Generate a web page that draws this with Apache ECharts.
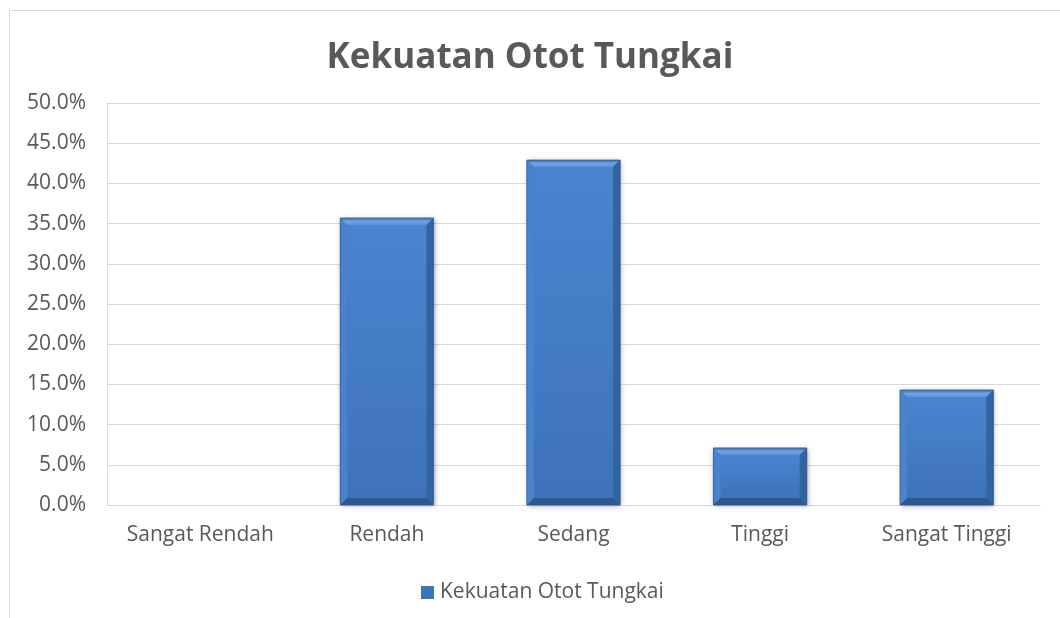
<!DOCTYPE html>
<html>
<head>
<meta charset="utf-8">
<script src="https://cdn.jsdelivr.net/npm/echarts@6/dist/echarts.min.js"></script>
<style>
  html, body { margin: 0; padding: 0; background: #fff; }
  #chart { width: 1060px; height: 618px; }
</style>
</head>
<body>
<div id="chart"></div>
<script>
// Données du graphique
var categories = ["Sangat Rendah", "Rendah", "Sedang", "Tinggi", "Sangat Tinggi"];
var values = [0, 35.7, 42.9, 7.1, 14.3];
var seriesName = "Kekuatan Otot Tungkai";

var chart = echarts.init(document.getElementById('chart'));
var font = '"Open Sans", "Noto Sans", sans-serif';

// Barre avec effet biseauté (comme Excel)
function renderBevelBar(params, api) {
    var idx = api.value(0);
    var val = api.value(1);
    if (!val) return null;
    var top = api.coord([idx, val]);
    var base = api.coord([idx, 0]);
    var w = api.size([1, 0])[0] * 0.5;
    var x0 = top[0] - w / 2, x1 = top[0] + w / 2;
    var y0 = top[1], y1 = base[1];
    var b = Math.min(7, (y1 - y0) / 2);
    return {
        type: 'group',
        children: [
            { type: 'rect', shape: { x: x0, y: y0, width: w, height: y1 - y0 },
              style: { fill: '#3f74bd', shadowColor: 'rgba(0,0,0,0.35)', shadowBlur: 5, shadowOffsetX: 1, shadowOffsetY: 1 } },
            { type: 'rect', shape: { x: x0 + b, y: y0 + b, width: w - 2 * b, height: y1 - y0 - 2 * b },
              style: { fill: new echarts.graphic.LinearGradient(0, 0, 0, 1, [
                  { offset: 0, color: '#4a84cf' }, { offset: 1, color: '#3e73bb' }]) } },
            { type: 'polygon', shape: { points: [[x0, y0], [x1, y0], [x1 - b, y0 + b], [x0 + b, y0 + b]] },
              style: { fill: new echarts.graphic.LinearGradient(0, 0, 0, 1, [
                  { offset: 0, color: '#3a6fb6' }, { offset: 0.5, color: '#6fa3e4' }, { offset: 1, color: '#5a91d8' }]) } },
            { type: 'polygon', shape: { points: [[x0, y0], [x0 + b, y0 + b], [x0 + b, y1 - b], [x0, y1]] },
              style: { fill: '#4a83cd' } },
            { type: 'polygon', shape: { points: [[x1, y0], [x1, y1], [x1 - b, y1 - b], [x1 - b, y0 + b]] },
              style: { fill: '#34649f' } },
            { type: 'polygon', shape: { points: [[x0, y1], [x0 + b, y1 - b], [x1 - b, y1 - b], [x1, y1]] },
              style: { fill: '#2c5791' } },
            { type: 'rect', shape: { x: x0, y: y0, width: w, height: y1 - y0 },
              style: { fill: 'none', stroke: '#2f5b96', lineWidth: 0.8 } }
        ]
    };
}

var option = {
    backgroundColor: '#fff',
    textStyle: { fontFamily: font },
    title: {
        text: 'Kekuatan Otot Tungkai',
        left: 'center',
        top: 36,
        textStyle: { fontSize: 35, fontWeight: 'bold', color: '#595959', fontFamily: font }
    },
    graphic: [{
        type: 'rect',
        shape: { x: 9.5, y: 10.5, width: 1100, height: 700 },
        style: { fill: 'none', stroke: '#d9d9d9', lineWidth: 1 },
        silent: true
    }],
    legend: {
        top: 577,
        left: 416,
        itemWidth: 13,
        itemHeight: 13,
        itemGap: 4,
        textStyle: { fontSize: 21, color: '#595959', fontFamily: font, padding: [0, 0, 0, 1] },
        data: [{ name: seriesName, icon: 'rect' }]
    },
    grid: { left: 107, right: 20, top: 103, bottom: 113 },
    xAxis: {
        type: 'category',
        data: categories,
        axisLine: { show: true, lineStyle: { color: '#d9d9d9' } },
        axisTick: { show: false },
        axisLabel: { fontSize: 21, color: '#595959', margin: 20, interval: 0 }
    },
    yAxis: {
        type: 'value',
        min: 0,
        max: 50,
        interval: 5,
        axisLine: { show: true, lineStyle: { color: '#d9d9d9' } },
        axisTick: { show: false },
        splitLine: { lineStyle: { color: '#d9d9d9', width: 1 } },
        axisLabel: {
            fontSize: 21,
            color: '#595959',
            margin: 21,
            formatter: function (v) { return v.toFixed(1) + '%'; }
        }
    },
    series: [{
        name: seriesName,
        type: 'custom',
        renderItem: renderBevelBar,
        itemStyle: { color: '#3f74bd' },
        encode: { x: 0, y: 1 },
        data: values.map(function (v, i) { return [i, v]; })
    }]
};

chart.setOption(option);
</script>
</body>
</html>
